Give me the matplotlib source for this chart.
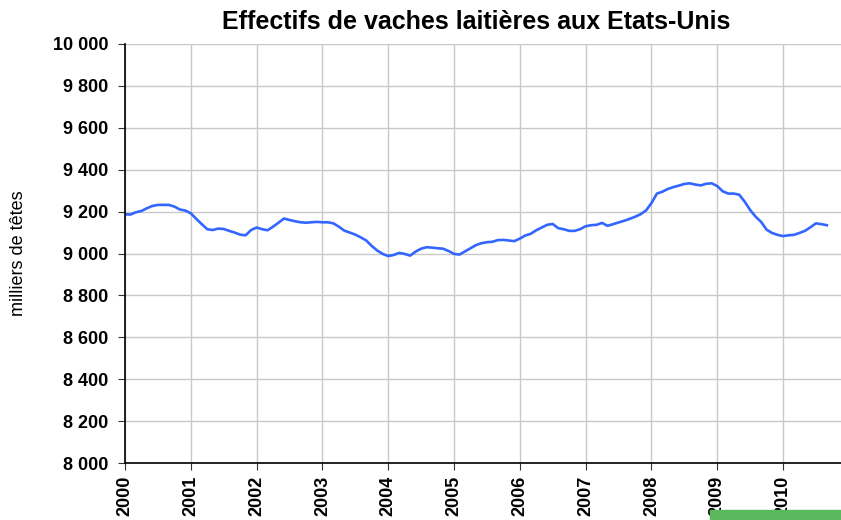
import numpy as np
import matplotlib
matplotlib.use("Agg")
import matplotlib.pyplot as plt
import matplotlib.ticker as mticker
from matplotlib.patches import Rectangle

plt.rcParams['font.family'] = ['Liberation Sans', 'DejaVu Sans']

# monthly dairy cow numbers (thousand head), Jan 2000 - Sep 2010
v2000 = [9187, 9186, 9197, 9203, 9216, 9227, 9232, 9232, 9232, 9224, 9210, 9205]
v2001 = [9192, 9165, 9140, 9116, 9112, 9119, 9117, 9108, 9100, 9090, 9087, 9112]
v2002 = [9124, 9116, 9111, 9128, 9147, 9167, 9160, 9154, 9149, 9147, 9149, 9151]
v2003 = [9149, 9149, 9144, 9128, 9109, 9100, 9090, 9077, 9062, 9036, 9014, 8998]
v2004 = [8988, 8993, 9003, 8998, 8990, 9009, 9023, 9030, 9028, 9025, 9023, 9012]
v2005 = [8998, 8995, 9010, 9025, 9040, 9049, 9054, 9056, 9064, 9065, 9062, 9059]
v2006 = [9071, 9086, 9094, 9111, 9124, 9137, 9141, 9121, 9116, 9108, 9108, 9116]
v2007 = [9130, 9135, 9137, 9146, 9132, 9140, 9148, 9156, 9165, 9175, 9187, 9205]
v2008 = [9240, 9286, 9295, 9308, 9317, 9324, 9332, 9335, 9329, 9325, 9333, 9335]
v2009 = [9322, 9297, 9286, 9286, 9281, 9248, 9208, 9176, 9151, 9114, 9098, 9089]
v2010 = [9083, 9087, 9089, 9098, 9108, 9125, 9144, 9140, 9135]

values = v2000 + v2001 + v2002 + v2003 + v2004 + v2005 + v2006 + v2007 + v2008 + v2009 + v2010
years = list(range(2000, 2011))
t = 2000 + np.arange(len(values)) / 12.0

W, H = 841, 520
fig = plt.figure(figsize=(W / 100, H / 100), dpi=100)
ax = fig.add_axes([125 / W, 1 - 463 / H, (W - 125) / W, (463 - 44) / H])

ax.plot(t, values, color='#3366FF', lw=1.9)

ax.set_xlim(2000, 2000 + (W - 125) / 65.8)
ax.set_ylim(8000, 10000)
ax.set_xticks(years)
ax.set_xticklabels([str(y) for y in years], rotation=90, fontweight='bold', fontsize=13)
ax.yaxis.set_major_locator(mticker.MultipleLocator(200))
ax.yaxis.set_major_formatter(mticker.FuncFormatter(lambda v, p: f"{int(v):,}".replace(",", " ")))
for lab in ax.get_yticklabels():
    lab.set_fontweight('bold')
    lab.set_fontsize(13)

ax.grid(True, color='#c8c8c8', lw=1)
ax.set_axisbelow(True)
for s in ['top', 'right']:
    ax.spines[s].set_visible(False)
ax.spines['left'].set_linewidth(1.2)
ax.spines['bottom'].set_linewidth(1.2)
ax.tick_params(axis='y', direction='out', length=5, color='#333333', pad=7)
ax.tick_params(axis='x', direction='out', length=5, color='#333333', pad=4)

ax.set_ylabel('milliers de têtes', fontsize=13)
ax.yaxis.set_label_coords(-(125 - 27) / (W - 125), 0.5)

fig.text(476 / W, 1 - 22 / H, 'Effectifs de vaches laitières aux Etats-Unis',
         ha='center', va='center', fontsize=18, fontweight='bold')

fig.patches.append(Rectangle((710 / W, 0), (W - 710) / W, 10 / H,
                             transform=fig.transFigure, color='#5cb85c', zorder=0))

fig.savefig('out.png', dpi=100)
